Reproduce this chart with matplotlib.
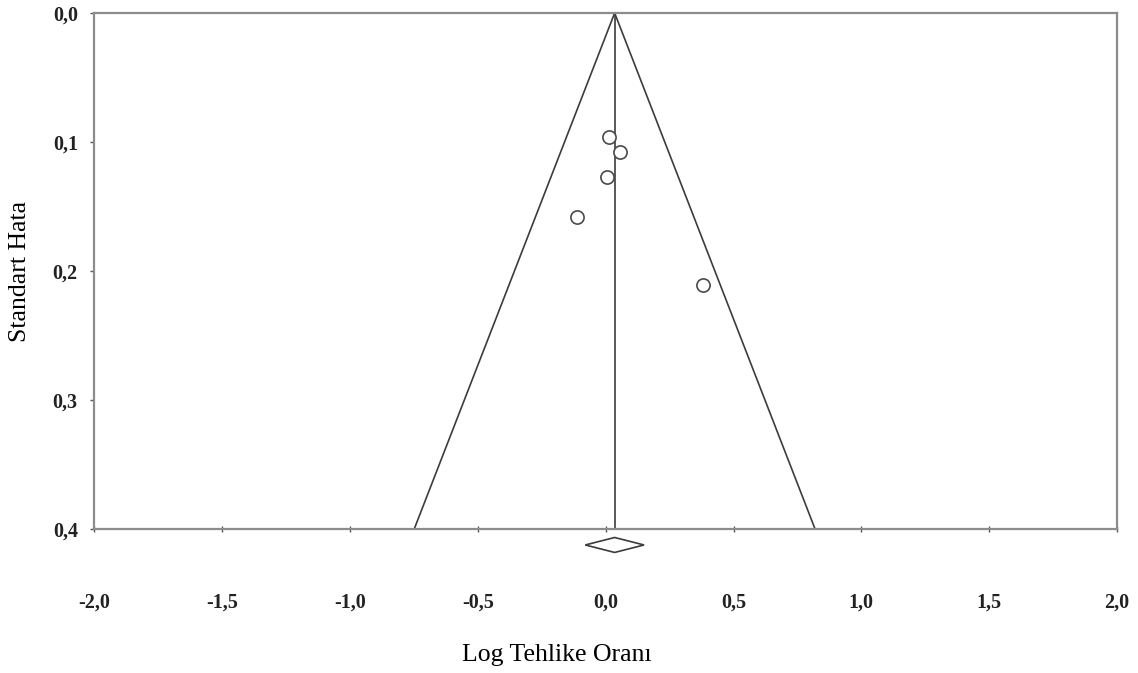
"""Funnel plot: Log Tehlike Oranı vs Standart Hata."""

import matplotlib
matplotlib.use("Agg")
import matplotlib.pyplot as plt
import numpy as np
from matplotlib.ticker import FuncFormatter

# study estimates (log hazard ratio) and standard errors
log_hr = [0.013, 0.055, 0.004, -0.111, 0.380]
std_err = [0.096, 0.1075, 0.127, 0.158, 0.211]

# pooled estimate and its 95% CI half-width
pooled = 0.035
pooled_ci_half = 0.115

x_ticks = [-2.0, -1.5, -1.0, -0.5, 0.0, 0.5, 1.0, 1.5, 2.0]
y_ticks = [0.0, 0.1, 0.2, 0.3, 0.4]
se_max = 0.4

plt.rcParams["font.family"] = ["Liberation Serif", "DejaVu Serif"]

fig = plt.figure(figsize=(11.38, 6.73), dpi=100)
ax = fig.add_axes([0.083, 0.214, 0.8985, 0.7667])

line_c = "#3c3c3c"
frame_c = "#8c8c8c"

# funnel (pseudo 95% limits)
ax.plot([pooled - 1.96 * se_max, pooled, pooled + 1.96 * se_max],
        [se_max, 0, se_max], color=line_c, lw=1.2, clip_on=False)
ax.plot([pooled, pooled], [0, se_max], color=line_c, lw=1.2)

# studies
ax.plot(log_hr, std_err, "o", ms=9.5, mfc="white", mec="#4a4a4a", mew=1.2, zorder=3)

# pooled diamond below the axis
dy = 0.4124
hh = 0.0058
ax.fill([pooled - pooled_ci_half, pooled, pooled + pooled_ci_half, pooled],
        [dy, dy - hh, dy, dy + hh], facecolor="white", edgecolor="#3c3c3c",
        lw=1.2, clip_on=False)

ax.set_xlim(-2, 2)
ax.set_ylim(se_max, 0)
ax.set_xticks(x_ticks)
ax.set_yticks(y_ticks)
fmt = FuncFormatter(lambda v, p: f"{v:.1f}".replace(".", ","))
ax.xaxis.set_major_formatter(fmt)
ax.yaxis.set_major_formatter(fmt)

for s in ax.spines.values():
    s.set_color(frame_c)
    s.set_linewidth(1.6)

ax.tick_params(axis="x", direction="inout", length=5, width=1, color="#555555",
               pad=43, labelsize=14.5)
ax.tick_params(axis="y", direction="out", length=3, width=1, color="#555555",
               pad=9, labelsize=14.5)
for lab in ax.get_xticklabels() + ax.get_yticklabels():
    lab.set_fontweight("bold")
    lab.set_color("#222222")

fig.text(0.489, 0.027, "Log Tehlike Oranı", ha="center", va="center", fontsize=18.5)
fig.text(0.018, 0.597, "Standart Hata", ha="center", va="center",
         rotation=90, fontsize=18.5)

fig.savefig("out.png", dpi=100)
